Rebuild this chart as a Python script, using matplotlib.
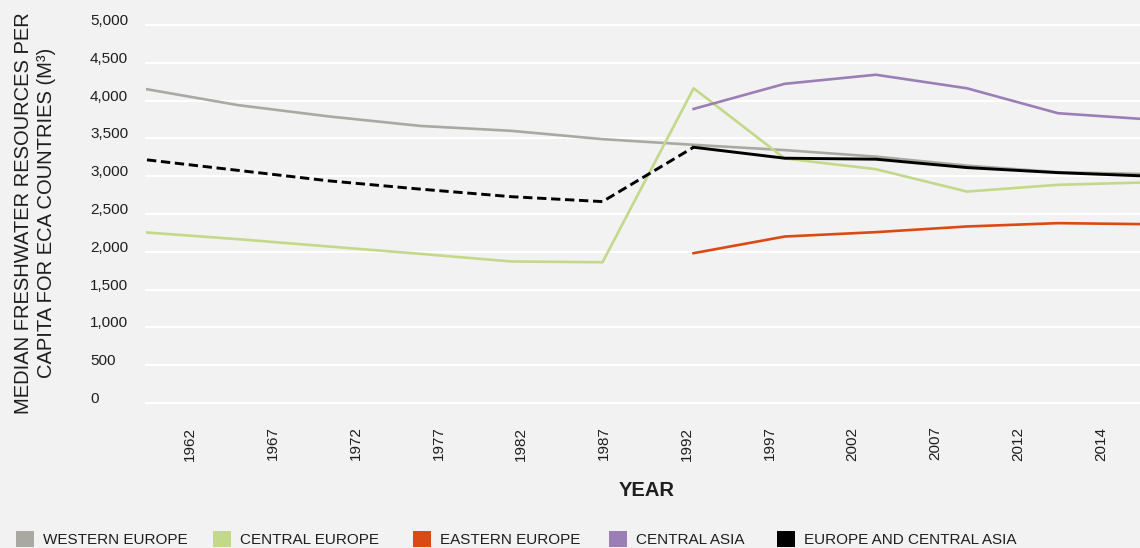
import numpy as np
import matplotlib
matplotlib.use("Agg")
import matplotlib.pyplot as plt
from matplotlib.patches import Patch

plt.rcParams["font.family"] = ["Liberation Sans", "DejaVu Sans"]

# data
years = [1962, 1967, 1972, 1977, 1982, 1987, 1992, 1997, 2002, 2007, 2012, 2014]
nan = np.nan
western_europe = [4150, 3940, 3790, 3665, 3600, 3490, 3415, 3345, 3259, 3140, 3053, 3028]
central_europe = [2255, 2167, 2070, 1973, 1872, 1862, 4163, 3235, 3093, 2797, 2886, 2919]
eastern_europe = [nan, nan, nan, nan, nan, nan, 1982, 2202, 2260, 2335, 2379, 2365]
central_asia = [nan, nan, nan, nan, nan, nan, 3890, 4222, 4342, 4163, 3833, 3751]
europe_central_asia = [3216, 3077, 2938, 2829, 2729, 2664, 3383, 3238, 3225, 3114, 3047, 3001]
yticks = list(range(0, 5001, 500))

series_names = ["WESTERN EUROPE", "CENTRAL EUROPE", "EASTERN EUROPE",
                "CENTRAL ASIA", "EUROPE AND CENTRAL ASIA"]
colors = ["#aaa9a1", "#c3d98a", "#db4a12", "#9c7eb7", "#000000"]
legend_x = [16, 213, 413, 609, 777]  # left edge of each legend swatch, px

BG = "#f2f2f2"
TXT = "#1e1e1e"

fig = plt.figure(figsize=(11.4, 5.48), dpi=100)
fig.patch.set_facecolor(BG)
ax = fig.add_axes([146 / 1140, 145 / 548, 994 / 1140, 378 / 548])
ax.set_facecolor(BG)

x = np.arange(len(years))
ax.plot(x, western_europe, color=colors[0], lw=1.9)
ax.plot(x, central_europe, color=colors[1], lw=1.9)
ax.plot(x, eastern_europe, color=colors[2], lw=1.9)
ax.plot(x, central_asia, color=colors[3], lw=1.9)
# ECA median is dashed before 1992, solid after
ax.plot(x[:7], europe_central_asia[:7], color=colors[4], lw=2.1, ls=(0, (3.2, 1.6)))
ax.plot(x[6:], europe_central_asia[6:], color=colors[4], lw=2.1)

ax.set_xlim(-0.011, 10.9)
ax.set_ylim(0, 5000)
ax.set_yticks(yticks)
ax.set_yticklabels([f"{v:,}" for v in yticks], ha="left", va="baseline")
ax.tick_params(axis="y", length=0, pad=40.3, labelsize=11, labelcolor=TXT)
ax.grid(axis="y", color="white", lw=1.5)
ax.set_axisbelow(True)
for gl in ax.get_ygridlines():
    gl.set_clip_on(False)
for s in ax.spines.values():
    s.set_visible(False)

# category labels on their own axis
ax2 = ax.twiny()
ax2.set_xlim(-0.53, 11.47)
ax2.set_xticks(range(len(years)))
ax2.set_xticklabels([str(y) for y in years], rotation=90)
ax2.xaxis.set_ticks_position("bottom")
ax2.tick_params(axis="x", length=0, pad=17, labelsize=11, labelcolor=TXT)
for s in ax2.spines.values():
    s.set_visible(False)
ax.tick_params(axis="x", bottom=False, top=False, labelbottom=False, labeltop=False)

fig.text(35 / 1140, 1 - 213 / 548,
         "MEDIAN FRESHWATER RESOURCES PER\nCAPITA FOR ECA COUNTRIES (M³)",
         rotation=90, ha="center", va="center", fontsize=14.5,
         linespacing=1.25, multialignment="center", color=TXT)
fig.text(647 / 1140, 1 - 491 / 548, "YEAR", ha="center", va="center",
         fontsize=14.5, fontweight="bold", color=TXT)

for c, n, lx in zip(colors, series_names, legend_x):
    fig.legend(handles=[Patch(facecolor=c, edgecolor="none", label=n)],
               loc="center left", bbox_to_anchor=(lx / 1140, 1 - 539 / 548),
               frameon=False, fontsize=11, handlelength=1.18, handleheight=1.18,
               handletextpad=0.6, borderpad=0, borderaxespad=0, labelcolor=TXT)

fig.savefig("out.png", dpi=100, facecolor=BG)
